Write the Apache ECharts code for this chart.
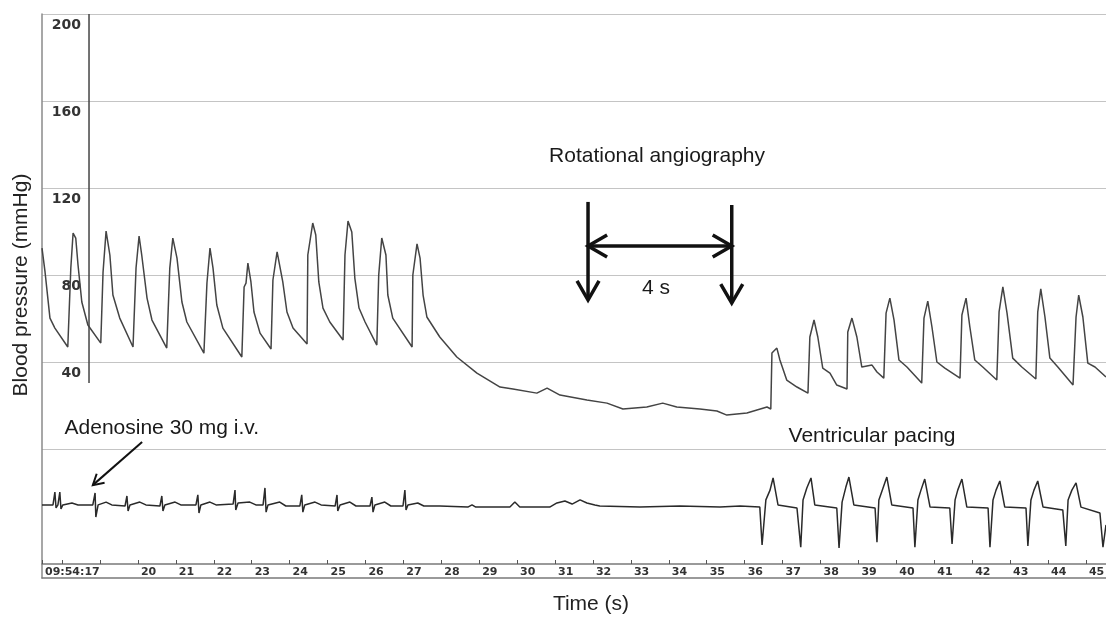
<!DOCTYPE html>
<html>
<head>
<meta charset="utf-8">
<title>Blood pressure trace</title>
<script src="https://cdn.jsdelivr.net/npm/echarts@6.0.0/dist/echarts.min.js"></script>
<style>
  html, body { margin: 0; padding: 0; background: #fff; }
  #chart { width: 1106px; height: 619px; }
</style>
</head>
<body>
<div id="chart"></div>
<script>
// time axis (s)
const xMin = 17.47;
const xMax = 45.53;
const xTickValues = [17.47, 18, 19, 20, 21, 22, 23, 24, 25, 26, 27, 28, 29, 30, 31, 32, 33, 34, 35, 36, 37, 38, 39, 40, 41, 42, 43, 44, 45];
const xLabelValues = [17.47, 20, 21, 22, 23, 24, 25, 26, 27, 28, 29, 30, 31, 32, 33, 34, 35, 36, 37, 38, 39, 40, 41, 42, 43, 44, 45];
const xStartLabel = "09:54:17";

// pressure axis (mmHg)
const yMin = -59.3;
const yMax = 200;
const yGridValues = [0, 40, 80, 120, 160, 200];
const yLabelValues = [40, 80, 120, 160, 200];

// arterial pressure, [time s, mmHg]
const bpTrace = [
  [17.47, 92.4], [17.55, 81.4], [17.68, 60.2], [17.81, 55.6], [18.15, 46.9],
  [18.23, 83.2], [18.29, 99.3], [18.36, 97.0], [18.42, 84.6], [18.52, 67.6], [18.68, 57.0], [19.02, 48.7],
  [19.08, 81.4], [19.16, 100.2], [19.26, 89.2], [19.34, 70.8], [19.52, 60.2], [19.87, 46.9],
  [19.95, 83.2], [20.03, 97.9], [20.10, 89.2], [20.24, 69.4], [20.37, 59.3], [20.76, 46.4],
  [20.84, 83.2], [20.92, 97.0], [21.03, 87.8], [21.16, 67.6], [21.29, 58.4], [21.74, 44.1],
  [21.82, 76.3], [21.90, 92.4], [21.98, 83.2], [22.08, 66.2], [22.24, 55.6], [22.74, 42.3],
  [22.80, 74.5], [22.85, 76.3], [22.90, 85.5], [22.98, 76.8], [23.06, 63.0], [23.22, 53.3], [23.51, 46.0],
  [23.56, 77.7], [23.67, 90.6], [23.72, 90.1], [23.82, 76.8], [23.93, 63.0], [24.09, 55.6], [24.46, 48.3],
  [24.48, 89.2], [24.61, 103.9], [24.69, 98.4], [24.77, 76.8], [24.88, 64.8], [25.06, 58.4], [25.41, 50.1],
  [25.46, 89.2], [25.54, 104.8], [25.64, 99.8], [25.72, 78.6], [25.83, 64.8], [25.99, 58.4], [26.30, 47.8],
  [26.35, 80.0], [26.43, 97.0], [26.54, 89.2], [26.59, 70.8], [26.72, 60.2], [27.23, 46.9],
  [27.25, 80.0], [27.36, 94.3], [27.44, 87.8], [27.52, 70.8], [27.62, 60.7], [27.96, 51.5],
  [28.41, 42.3], [28.94, 34.9], [29.55, 28.5], [29.89, 27.6], [30.52, 25.7], [30.79, 28.0],
  [31.13, 24.8], [31.84, 22.5], [32.37, 21.1], [32.79, 18.4], [33.42, 19.3], [33.84, 21.1],
  [34.21, 19.3], [34.82, 18.4], [35.27, 17.5], [35.53, 15.6], [36.06, 16.6], [36.59, 19.3], [36.69, 18.4],
  [36.72, 44.1], [36.85, 46.4], [36.93, 40.9], [37.11, 31.7], [37.38, 28.5], [37.67, 25.7],
  [37.72, 51.5], [37.83, 59.3], [37.93, 51.5], [38.06, 37.2], [38.25, 34.9], [38.43, 29.4], [38.70, 27.6],
  [38.72, 53.8], [38.83, 60.2], [38.96, 51.5], [39.09, 37.7], [39.36, 38.6], [39.49, 35.4], [39.67, 32.6],
  [39.73, 62.5], [39.83, 69.4], [39.94, 59.3], [40.07, 40.9], [40.28, 37.7], [40.67, 30.3],
  [40.73, 60.2], [40.83, 68.0], [40.94, 56.1], [41.07, 40.0], [41.28, 37.2], [41.68, 32.6],
  [41.73, 61.6], [41.84, 69.4], [41.94, 56.1], [42.07, 40.9], [42.28, 37.7], [42.65, 31.7],
  [42.71, 63.0], [42.81, 74.5], [42.92, 62.5], [43.07, 41.8], [43.31, 37.7], [43.68, 32.2],
  [43.73, 63.0], [43.81, 73.6], [43.92, 60.7], [44.05, 41.8], [44.26, 37.7], [44.66, 29.4],
  [44.74, 60.7], [44.81, 70.8], [44.92, 60.7], [45.05, 39.5], [45.24, 37.7], [45.53, 33.1]
];

// ECG lead, drawn on the same scale, [time s, value]
const ecgTrace = [
  [17.47, -25.7], [17.76, -25.7], [17.81, -19.8], [17.84, -27.1], [17.89, -25.7], [17.94, -19.8], [17.97, -27.6], [18.02, -25.7], [18.26, -24.8], [18.42, -25.7],
  [18.81, -25.7], [18.87, -20.2], [18.89, -31.3], [18.95, -25.7], [19.16, -24.4], [19.31, -25.7],
  [19.66, -26.2], [19.71, -21.6], [19.74, -28.5], [19.79, -25.7], [20.05, -24.4], [20.21, -25.7],
  [20.58, -26.2], [20.63, -21.6], [20.66, -28.5], [20.71, -25.7], [20.98, -24.4], [21.13, -25.7],
  [21.53, -25.7], [21.58, -21.1], [21.61, -29.4], [21.66, -25.7], [21.90, -24.4], [22.06, -25.7],
  [22.51, -25.3], [22.56, -18.9], [22.58, -28.0], [22.64, -24.8], [22.95, -24.4], [23.11, -25.7],
  [23.30, -25.7], [23.35, -17.9], [23.38, -29.0], [23.43, -25.7], [23.74, -24.4], [23.90, -26.2],
  [24.27, -26.2], [24.32, -21.1], [24.35, -29.0], [24.40, -25.7], [24.67, -24.4], [24.83, -25.7],
  [25.20, -26.2], [25.25, -21.1], [25.27, -28.5], [25.33, -25.7], [25.59, -24.4], [25.75, -26.2],
  [26.12, -26.2], [26.17, -22.1], [26.20, -29.0], [26.25, -25.7], [26.51, -24.4], [26.67, -26.2],
  [26.99, -26.2], [27.04, -18.9], [27.07, -28.0], [27.12, -25.7], [27.38, -24.8], [27.54, -26.2],
  [27.96, -26.2], [28.70, -26.7], [28.81, -25.7], [28.91, -26.7], [29.81, -26.7], [29.94, -24.4], [30.07, -26.7],
  [30.86, -26.7], [31.05, -24.8], [31.26, -23.9], [31.45, -25.3], [31.66, -23.4], [31.84, -24.8], [32.05, -25.7],
  [32.18, -26.2], [33.24, -26.7], [34.29, -26.2], [35.35, -26.7], [35.88, -26.2], [36.40, -26.7],
  [36.46, -44.1], [36.56, -23.4], [36.67, -18.9], [36.75, -13.3], [36.88, -25.7], [37.38, -27.1],
  [37.48, -45.1], [37.54, -23.4], [37.64, -17.9], [37.75, -13.3], [37.85, -25.7], [38.43, -27.1],
  [38.49, -45.5], [38.57, -24.4], [38.67, -17.5], [38.75, -12.9], [38.88, -25.7], [39.44, -27.1],
  [39.49, -42.8], [39.54, -23.4], [39.65, -17.9], [39.75, -12.9], [39.88, -25.7], [40.44, -27.1],
  [40.49, -45.1], [40.57, -23.4], [40.65, -18.9], [40.75, -13.8], [40.89, -26.7], [41.41, -27.1],
  [41.47, -43.7], [41.55, -23.4], [41.62, -18.9], [41.73, -13.8], [41.86, -26.7], [42.42, -27.1],
  [42.47, -45.1], [42.55, -23.4], [42.63, -18.9], [42.73, -14.7], [42.86, -26.7], [43.42, -27.1],
  [43.47, -44.6], [43.55, -23.4], [43.63, -18.9], [43.73, -14.7], [43.87, -26.7], [44.39, -28.0],
  [44.47, -44.6], [44.53, -23.4], [44.63, -18.9], [44.74, -15.6], [44.87, -26.7], [45.37, -29.4],
  [45.45, -45.1], [45.53, -34.9]
];

// annotations, anchored in data units
const scaleBar = [[18.71, 200], [18.71, 30.3]];
const angioLeft = [[31.87, 113.6], [31.87, 68.5]];
const angioRight = [[35.66, 112.2], [35.66, 67.1]];
const angioSpan = [[31.87, 93.3], [35.66, 93.3]];
const adenosineArrow = [[20.11, 3.2], [18.81, -16.6]];
const notes = [
  { text: "Rotational angiography", at: [33.69, 134.7] },
  { text: "4 s", at: [33.66, 74.0] },
  { text: "Adenosine 30 mg i.v.", at: [20.63, 9.7] },
  { text: "Ventricular pacing", at: [39.36, 6.0] }
];

const textFont = '"Liberation Sans", Arial, sans-serif';
const tickFont = '"DejaVu Sans", sans-serif';

let chart = echarts.init(document.getElementById("chart"), null, { renderer: "canvas" });

let option = {
  backgroundColor: "#ffffff",
  animation: false,
  grid: {
    left: 42,
    right: 0,
    top: 14,
    bottom: 41,
    containLabel: false,
    outerBoundsMode: "none"
  },
  xAxis: [
    {
      type: "value",
      min: xMin,
      max: xMax,
      position: "bottom",
      offset: -14,
      axisLine: { show: true, onZero: false, lineStyle: { color: "#7a7a7a", width: 1.5 } },
      axisTick: {
        show: true,
        inside: true,
        length: 4,
        customValues: xTickValues,
        lineStyle: { color: "#555", width: 1 }
      },
      axisLabel: {
        customValues: xLabelValues,
        formatter: function (v) {
          return v < 18 ? xStartLabel : String(v);
        },
        align: "left",
        margin: 3,
        padding: [0, 0, 0, 3],
        color: "#333",
        fontFamily: tickFont,
        fontWeight: "bold",
        fontSize: 11
      },
      splitLine: { show: false }
    },
    {
      type: "value",
      min: xMin,
      max: xMax,
      position: "bottom",
      offset: 0,
      axisLine: { show: true, onZero: false, lineStyle: { color: "#7a7a7a", width: 1.5 } },
      axisTick: { show: false },
      axisLabel: { show: false },
      splitLine: { show: false },
      name: "Time (s)",
      nameLocation: "middle",
      nameGap: 16,
      nameTextStyle: {
        fontFamily: textFont,
        fontSize: 21,
        color: "#222",
        verticalAlign: "top",
        padding: [0, 0, 0, 34]
      }
    }
  ],
  yAxis: {
    type: "value",
    min: yMin,
    max: yMax,
    axisLine: { show: true, onZero: false, lineStyle: { color: "#8a8a8a", width: 1.5 } },
    axisTick: { show: false, customValues: yGridValues },
    axisLabel: {
      inside: true,
      customValues: yLabelValues,
      align: "right",
      verticalAlign: "top",
      margin: 39,
      padding: [4, 0, 0, 0],
      color: "#333",
      fontFamily: tickFont,
      fontWeight: "bold",
      fontSize: 14
    },
    splitLine: { show: true, lineStyle: { color: "#c4c4c4", width: 1 } },
    name: "Blood pressure (mmHg)",
    nameLocation: "middle",
    nameRotate: 90,
    nameGap: 10,
    nameTextStyle: {
      fontFamily: textFont,
      fontSize: 21,
      color: "#222",
      padding: [0, 0, 0, 22]
    }
  },
  series: [
    {
      name: "Blood pressure",
      type: "line",
      xAxisIndex: 0,
      data: bpTrace,
      symbol: "none",
      showSymbol: false,
      lineStyle: { color: "#444444", width: 1.5 },
      z: 3
    },
    {
      name: "ECG",
      type: "line",
      xAxisIndex: 0,
      data: ecgTrace,
      symbol: "none",
      showSymbol: false,
      lineStyle: { color: "#2a2a2a", width: 1.5 },
      z: 3
    }
  ]
};
chart.setOption(option);

// annotations are placed after layout, from data coordinates
function toPx(p) {
  return chart.convertToPixel({ xAxisIndex: 0, yAxisIndex: 0 }, p);
}

function chevron(tip, from, len, ang) {
  let dx = tip[0] - from[0];
  let dy = tip[1] - from[1];
  let d = Math.sqrt(dx * dx + dy * dy);
  let bx = -dx / d;
  let by = -dy / d;
  let c = Math.cos(ang);
  let s = Math.sin(ang);
  return [
    [tip[0] + len * (bx * c - by * s), tip[1] + len * (bx * s + by * c)],
    tip,
    [tip[0] + len * (bx * c + by * s), tip[1] + len * (-bx * s + by * c)]
  ];
}

function arrowParts(a, b, width, headLen, withStartHead) {
  let p1 = toPx(a);
  let p2 = toPx(b);
  let style = { stroke: "#111", lineWidth: width, fill: null };
  let parts = [
    { type: "line", z: 100, shape: { x1: p1[0], y1: p1[1], x2: p2[0], y2: p2[1] }, style: style },
    { type: "polyline", z: 100, shape: { points: chevron(p2, p1, headLen, Math.PI / 6) }, style: style }
  ];
  if (withStartHead) {
    parts.push({ type: "polyline", z: 100, shape: { points: chevron(p1, p2, headLen, Math.PI / 6) }, style: style });
  }
  return parts;
}

let graphics = [];
let sb0 = toPx(scaleBar[0]);
let sb1 = toPx(scaleBar[1]);
graphics.push({
  type: "line",
  z: 50,
  shape: { x1: sb0[0], y1: sb0[1], x2: sb1[0], y2: sb1[1] },
  style: { stroke: "#444", lineWidth: 1.5 }
});
graphics = graphics.concat(arrowParts(angioLeft[0], angioLeft[1], 3.5, 22, false));
graphics = graphics.concat(arrowParts(angioRight[0], angioRight[1], 3.5, 22, false));
graphics = graphics.concat(arrowParts(angioSpan[0], angioSpan[1], 3.5, 22, true));
graphics = graphics.concat(arrowParts(adenosineArrow[0], adenosineArrow[1], 2, 12, false));

notes.forEach(function (n) {
  let p = toPx(n.at);
  graphics.push({
    type: "text",
    z: 100,
    x: p[0],
    y: p[1],
    style: {
      text: n.text,
      font: "21px " + textFont,
      fill: "#1a1a1a",
      align: "center",
      verticalAlign: "middle",
      textAlign: "center",
      textVerticalAlign: "middle"
    }
  });
});

chart.setOption({ graphic: graphics });
</script>
</body>
</html>
